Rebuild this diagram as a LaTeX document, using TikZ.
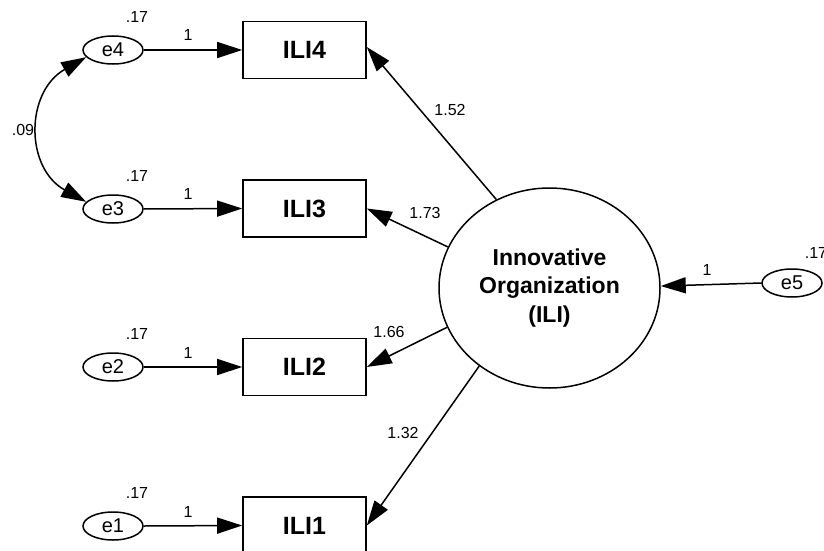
\documentclass[tikz,border=0pt]{standalone}
\usepackage{fontspec}
\setmainfont{Liberation Sans}
\usetikzlibrary{arrows.meta,shapes.geometric}

\begin{document}
\begin{tikzpicture}[x=1pt,y=-1pt,
  ln/.style={line width=1.5pt},
  tip/.style={Triangle[length=25pt,width=16pt]},
  arr/.style={ln,-{Triangle[length=25pt,width=16pt]}},
  obs/.style={draw,line width=1.6pt,minimum width=123pt,minimum height=57pt,
    inner sep=0pt,font=\fontsize{25}{30}\selectfont\bfseries},
  err/.style={draw,ellipse,line width=1.5pt,minimum width=60pt,minimum height=28pt,
    inner sep=0pt,font=\fontsize{20}{24}\selectfont},
  lat/.style={draw,ellipse,line width=1.5pt,minimum width=221pt,minimum height=200pt,
    inner sep=0pt,align=center,font=\fontsize{23}{28.5}\selectfont\bfseries},
  num/.style={font=\fontsize{16}{19}\selectfont,inner sep=0pt}]

\useasboundingbox (0,0) rectangle (824,551);
\clip (0,0) rectangle (824,551);

% observed indicators
\node[obs] (b4) at (304.5,50)    {ILI4};
\node[obs] (b3) at (304.5,208.5) {ILI3};
\node[obs] (b2) at (304.5,367)   {ILI2};
\node[obs] (b1) at (304.5,525.5) {ILI1};

% error terms
\node[err] (e4) at (113,50)  {e4};
\node[err] (e3) at (113,209) {e3};
\node[err] (e2) at (113,367) {e2};
\node[err] (e1) at (113,526) {e1};
\node[err] (e5) at (792,283) {e5};

% latent factor
\node[lat] (ili) at (549.5,288) {Innovative\\Organization\\(ILI)};

% error paths
\draw[arr] (e4.east) -- (b4.west);
\draw[arr] (e3.east) -- (b3.west);
\draw[arr] (e2.east) -- (b2.west);
\draw[arr] (e1.east) -- (b1.west);
\draw[arr] (e5.west) -- (ili.1.5);

% loadings
\draw[arr] (ili.121.8) -- ([yshift=3pt]b4.east);
\draw[arr] (ili.158)   -- (b3.east);
\draw[arr] (ili.201.3) -- (b2.east);
\draw[arr] (ili.228.7) -- (b1.east);

% covariance e4 <-> e3
\draw[ln,{Triangle[length=25pt,width=16pt]}-{Triangle[length=25pt,width=16pt]}]
  (e4.195) .. controls (25,92) and (25,168) .. (e3.165);

% variances
\node[num] (v4) at (137,17)  {.17};
\node[num] (v3) at (137,176) {.17};
\node[num] (v2) at (137,334) {.17};
\node[num] (v1) at (137,493) {.17};
\node[num] (v5) at (816,253) {.17};

% path weights
\node[num] (w4) at (188,35)  {1};
\node[num] (w3) at (188,194) {1};
\node[num] (w2) at (188,353) {1};
\node[num] (w1) at (188,512) {1};
\node[num] (w5) at (707,270) {1};

\node[num] (c43) at (23,130) {.09};

\node[num] (l4) at (450,110) {1.52};
\node[num] (l3) at (425,213) {1.73};
\node[num] (l2) at (389,332) {1.66};
\node[num] (l1) at (403,433) {1.32};
\end{tikzpicture}
\end{document}
